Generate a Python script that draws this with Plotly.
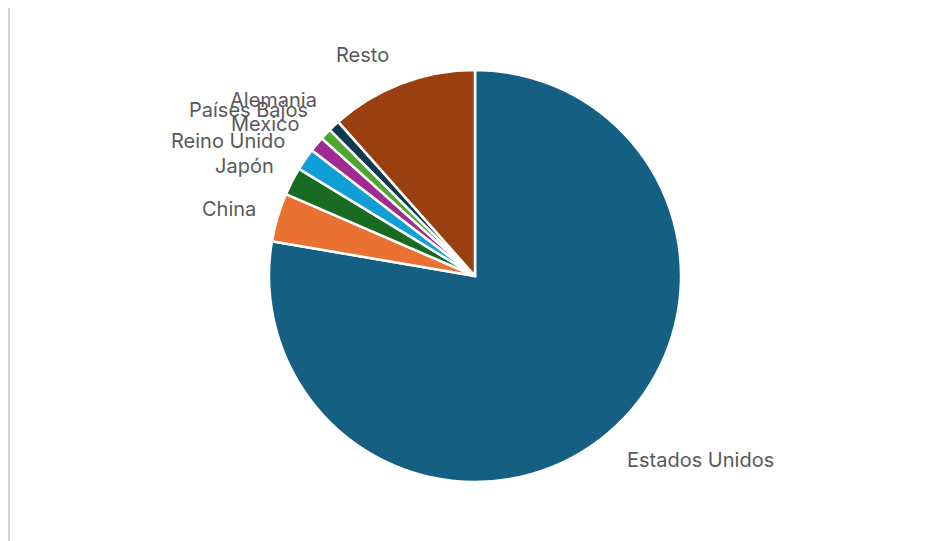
import plotly.graph_objects as go

# Data
paises = ["Estados Unidos", "China", "Japón", "Reino Unido", "Mexico",
          "Países Bajos", "Alemania", "Resto"]
valores = [77.7, 3.8, 2.2, 1.75, 1.2, 0.9, 0.9, 11.55]
colores = ["#156082", "#E97132", "#196B24", "#0F9ED5", "#A02B93",
           "#4EA72E", "#0D3A4E", "#9A4010"]

# label positions (pixel centres of the text in the window)
label_px = {
    "Estados Unidos": (700, 460),
    "China": (229, 209),
    "Japón": (244, 166),
    "Reino Unido": (228, 141),
    "Mexico": (265, 124),
    "Países Bajos": (248, 110),
    "Alemania": (273, 100),
    "Resto": (362, 55),
}

W, H = 931, 541
OFF = 8  # page body margin offset
cx, cy, r = 475 - OFF, 276 - OFF, 206

fig = go.Figure(go.Pie(
    labels=paises,
    values=valores,
    sort=False,
    direction="clockwise",
    rotation=0,
    marker=dict(colors=colores, line=dict(color="white", width=2.5)),
    textinfo="none",
    hoverinfo="label+percent",
    showlegend=False,
    domain=dict(x=[(cx - r) / W, (cx + r) / W], y=[(H - cy - r) / H, (H - cy + r) / H]),
))

for name in paises:
    px, py = label_px[name]
    fig.add_annotation(
        x=(px - OFF) / W, y=1 - (py - OFF) / H, xref="paper", yref="paper",
        text=name, showarrow=False, xanchor="center", yanchor="middle",
        font=dict(family="Inter, Lato, sans-serif", size=20, color="#595959"),
    )

fig.add_shape(type="line", xref="paper", yref="paper",
              x0=1 / W, x1=1 / W, y0=0, y1=1,
              line=dict(color="#D4D4D4", width=2))

fig.update_layout(
    width=W, height=H,
    margin=dict(l=0, r=0, t=0, b=0),
    paper_bgcolor="white", plot_bgcolor="white",
)

fig.write_html("out.html")
